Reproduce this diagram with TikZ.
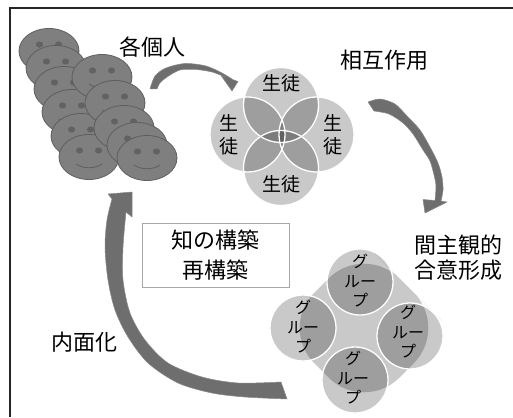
\documentclass[tikz,border=0pt]{standalone}
\usepackage{fontspec}
\setmainfont{Noto Sans CJK JP}
\definecolor{facefill}{HTML}{7F7F7F}
\definecolor{faceline}{HTML}{5E5E5E}
\definecolor{eyefill}{HTML}{626262}
\definecolor{arrowfill}{HTML}{6E6E6E}
\definecolor{arrowline}{HTML}{8A8A8A}
\definecolor{boxline}{HTML}{A8A8A8}
\tikzset{
  smileface/.pic={
    \path[fill=facefill, draw=faceline, line width=0.8pt] (0,0) ellipse [x radius=30, y radius=22.5];
    \fill[eyefill] (-9.5,-6.5) ellipse [x radius=3.6, y radius=3.1];
    \fill[eyefill] (9.5,-6.5) ellipse [x radius=3.6, y radius=3.1];
    \draw[faceline, line width=0.8pt] (-13,7) .. controls (-6,12) and (6,12) .. (13,7);
  },
  lbl/.style={font=\fontsize{22}{25}\selectfont, align=center, inner sep=0pt},
  boxnode/.style={draw=boxline, line width=0.8pt, fill=white, minimum width=147pt, minimum height=64pt,
    font=\fontsize{22}{30}\selectfont, align=center, inner sep=0pt},
  seito/.style={font=\fontsize{19}{22.5}\selectfont, align=center, inner sep=0pt},
  grptext/.style={font=\fontsize{16}{19.5}\selectfont, align=center, inner sep=0pt},
  shade/.style={fill=black, fill opacity=0.21},
  rim/.style={draw=white, line width=1.3pt},
  arrowshape/.style={fill=arrowfill, draw=arrowline, line width=0.5pt, line join=round},
}
\begin{document}
\begin{tikzpicture}[x=1pt,y=-1pt]
\useasboundingbox (0,0) rectangle (513,417);
\fill[white] (0,0) rectangle (513,417);
% frame
\draw[line width=1.5pt, black!85] (10,417) -- (10,8) -- (513,8);

% faces, left column
\pic (fa) at (49,51) {smileface};
\pic (fb) at (56,68) {smileface};
\pic (fc) at (64,89) {smileface};
\pic (fd) at (72,112) {smileface};
\pic (fe) at (81,136) {smileface};
\pic (ff) at (89,157) {smileface};
% faces, right column
\pic (fg) at (102,77) {smileface};
\pic (fh) at (115,103) {smileface};
\pic (fi) at (124,128) {smileface};
\pic (fj) at (137,145) {smileface};
\pic (fk) at (147,158) {smileface};

% top arrow
\path[arrowshape] plot[smooth] coordinates {(150,89) (155,76) (166,68) (185,63.5) (206,66) (222,73) (233,79.7)}
  -- (238,81.5) -- (232,91) -- (221,75.5) -- (226,77.3)
  -- plot[smooth] coordinates {(226,77.3) (212,72) (196,69.5) (180,70) (167,77) (160,83) (157,89)} -- cycle;

% right arrow
\path[arrowshape] plot[smooth] coordinates {(368,102) (380,99) (395,104) (407,116) (420,130) (430,147) (438,163) (442,177) (443,190) (441,201)}
  -- (447,202) -- (425,213) -- (423,199.5) -- (435,200.5)
  -- plot[smooth] coordinates {(435,200.5) (436,186) (434,175) (430,161) (423,150) (413,134) (403,123) (389,114) (374,111)} -- cycle;

% big left arrow
\path[arrowshape] (112,199) -- (108,194) -- (132,192) -- (132,217) -- (126,212)
  -- plot[smooth] coordinates {(126,212) (123,247) (123,280) (130,313) (145,340) (168,363) (202,377) (238,383) (281,382)}
  -- (287,399)
  -- plot[smooth] coordinates {(287,399) (245,397) (212,393) (178,383) (148,363) (128,337) (115,310) (108,280) (105,247) (107,220) (112,199)} -- cycle;

% interaction venn
\fill[shade] (281,105) circle [radius=37.5];
\fill[shade] (281,168) circle [radius=37.5];
\fill[shade] (247.5,134.5) circle [radius=37.5];
\fill[shade] (316.5,134.5) circle [radius=37.5];
\draw[rim] (281,105) circle [radius=37.5];
\draw[rim] (281,168) circle [radius=37.5];
\draw[rim] (247.5,134.5) circle [radius=37.5];
\draw[rim] (316.5,134.5) circle [radius=37.5];
\node[seito] (s1) at (281,83) {生徒};
\node[seito] (s2) at (281,184) {生徒};
\node[seito] (s3) at (229,135) {生\\徒};
\node[seito] (s4) at (333,135) {生\\徒};

% group diagram
\fill[shade, rounded corners=50pt] (406.5,285.5) -- (449,328) -- (364,413) -- (279,328) -- (364,243) -- cycle;
\fill[shade] (360,282) circle [radius=33];
\fill[shade] (303,328) circle [radius=33];
\fill[shade] (410,336) circle [radius=33];
\fill[shade] (355,380) circle [radius=33];
\draw[rim] (360,282) circle [radius=33];
\draw[rim] (303,328) circle [radius=33];
\draw[rim] (410,336) circle [radius=33];
\draw[rim] (355,380) circle [radius=33];
\node[grptext] (g1) at (360,281) {グ\\ルー\\プ};
\node[grptext] (g2) at (303,327) {グ\\ルー\\プ};
\node[grptext] (g3) at (408,332) {グ\\ルー\\プ};
\node[grptext] (g4) at (353,378) {グ\\ルー\\プ};

% labels
\node[lbl] (kakko) at (152,47) {各個人};
\node[lbl] (sogo) at (384,60) {相互作用};
\node[lbl] (kanshu) at (458,258) {間主観的\\合意形成};
\node[lbl] (naimen) at (84,342) {内面化};
\node[boxnode] (chi) at (215.5,255) {知の構築\\再構築};
\end{tikzpicture}
\end{document}
